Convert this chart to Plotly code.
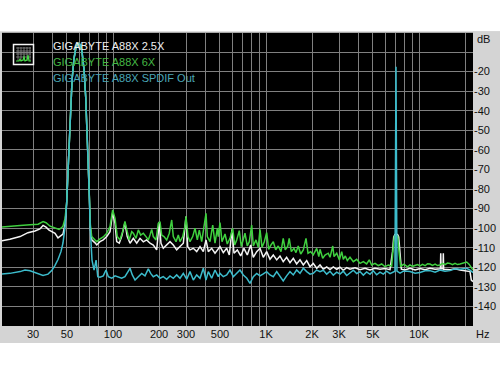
import plotly.graph_objects as go

W, H = 500, 375

# ---------------- data ----------------
series_names = ["GIGABYTE A88X 2.5X", "GIGABYTE A88X 6X", "GIGABYTE A88X SPDIF Out"]

white_hz = [18.8, 21.2, 24.7, 27.8, 30.9, 33.3, 34.9, 36.5, 38.2, 41.8,
            43.7, 45.7, 47.1, 48.6, 49.8, 51.1, 52.4, 54.0, 55.6, 57.3,
            59.3, 61.2, 62.7, 64.7, 66.3, 68.0, 69.7, 71.1, 72.6, 76.3,
            78.3, 82.2, 86.4, 91.0, 95.6, 99.5, 103.1, 105.7, 109.9, 113.9,
            119.7, 123.9, 129.2, 135.8, 142.9, 150.1, 157.8, 166.0, 174.5, 183.4,
            193.0, 200.7, 205.9, 213.1, 224.3, 235.8, 247.8, 260.8, 274.1, 288.1,
            300.0, 307.8, 318.6, 334.9, 352.4, 370.4, 389.3, 405.4, 419.7, 441.6,
            464.2, 500.4, 525.9, 553.4, 575.5, 599.5, 617.8, 649.3, 683.3, 717.8,
            754.6, 794.4, 826.0, 869.3, 913.5, 960.1, 1010, 1062, 1116, 1175,
            1234, 1296, 1364, 1435, 1508, 1586, 1668, 1753, 1845, 1939,
            2036, 2145, 2254, 2369, 2493, 2620, 2754, 2899, 3045, 3201,
            3369, 3540, 3818, 4115, 4436, 4783, 5157, 5560, 5995, 6463,
            6712, 6834, 6970, 7236, 7367, 7513, 7664, 8089, 8733, 9430,
            10150, 10960, 11800, 12740, 13720, 13800, 13870, 13940, 14350, 14420,
            14490, 15940, 17200, 18530, 20490, 21540, 21970, 22540]
white_db = [-106.4, -105.7, -104.3, -102.3, -101.4, -100.4, -98.6, -99.5, -101.0, -102.6,
            -105.0, -104.0, -103.0, -98.0, -87.0, -66.7, -43.0, -24.3, -13.2, -7.6,
            -5.5, -6.2, -9.8, -19.2, -32.8, -53.2, -78.8, -100.0, -106.0, -107.5,
            -108.6, -106.9, -106.0, -104.3, -101.8, -92.1, -97.5, -106.9, -107.7, -104.3,
            -97.2, -104.3, -107.7, -105.2, -107.7, -105.2, -107.0, -106.0, -107.7, -108.6,
            -111.1, -96.7, -107.7, -110.3, -108.6, -106.9, -108.6, -111.1, -109.4, -107.7,
            -94.1, -109.4, -111.1, -110.3, -112.0, -109.4, -112.0, -106.0, -112.0, -110.3,
            -112.8, -109.4, -112.5, -110.3, -113.7, -100.6, -112.8, -111.1, -114.2, -110.3,
            -113.7, -108.6, -114.9, -112.0, -110.3, -114.9, -112.0, -115.9, -113.7, -116.2,
            -114.2, -117.1, -114.9, -117.6, -115.4, -118.3, -116.2, -118.8, -116.6, -119.7,
            -118.0, -120.5, -118.8, -121.0, -119.8, -121.2, -119.8, -121.0, -120.0, -121.5,
            -120.2, -121.0, -120.2, -121.2, -120.5, -121.4, -120.5, -121.0, -120.6, -121.2,
            -112.0, -104.5, -103.2, -103.2, -104.5, -112.0, -121.0, -121.4, -120.5, -121.4,
            -120.6, -121.2, -120.5, -121.0, -120.8, -120.8, -112.8, -120.8, -120.8, -112.8,
            -121.0, -121.2, -120.8, -121.4, -121.7, -122.2, -126.5, -127.3]

green_hz = [18.8, 21.2, 24.7, 28.7, 32.4, 34.9, 36.5, 38.8, 41.8, 44.4,
            45.7, 47.1, 48.6, 49.8, 51.1, 52.4, 54.0, 55.6, 57.3, 59.3,
            61.2, 62.7, 64.7, 66.3, 68.0, 69.7, 71.1, 72.6, 76.3, 78.3,
            82.2, 86.4, 91.0, 95.6, 99.5, 103.1, 106.7, 111.0, 115.6, 119.7,
            123.9, 127.7, 132.5, 135.8, 141.4, 146.4, 151.7, 157.8, 164.3, 170.1,
            174.5, 179.0, 183.4, 191.0, 197.7, 202.8, 208.1, 215.4, 224.3, 233.3,
            241.9, 247.8, 258.1, 267.2, 274.1, 285.5, 295.5, 300.0, 309.2, 318.6,
            331.8, 343.5, 355.7, 366.5, 380.0, 393.4, 405.4, 413.5, 430.5, 448.4,
            464.2, 480.6, 487.8, 500.4, 515.7, 539.5, 558.3, 581.7, 605.6, 624.3,
            643.5, 669.1, 689.6, 729.0, 754.6, 777.8, 806.2, 826.0, 860.1, 890.2,
            913.5, 941.5, 974.9, 1010, 1041, 1078, 1116, 1157, 1202, 1253,
            1296, 1336, 1385, 1418, 1464, 1523, 1570, 1624, 1686, 1753,
            1826, 1882, 1959, 2036, 2145, 2214, 2254, 2348, 2430, 2551,
            2620, 2731, 2784, 2899, 3018, 3124, 3201, 3299, 3400, 3540,
            3721, 3914, 4115, 4326, 4548, 4730, 4903, 5157, 5420, 5701,
            5995, 6302, 6626, 6763, 6897, 7074, 7257, 7401, 7593, 7898,
            8089, 8410, 8733, 9070, 9430, 9780, 10150, 10540, 10960, 11370,
            11800, 12250, 12740, 13210, 13720, 14250, 14790, 15350, 15940, 16550,
            17200, 17850, 18530, 19480, 20490, 21300, 21970, 22540]
green_db = [-99.4, -99.2, -98.6, -98.3, -98.0, -96.6, -97.2, -99.0, -100.0, -100.6,
            -100.0, -99.0, -95.0, -87.0, -66.7, -43.0, -24.3, -13.2, -7.6, -5.5,
            -6.2, -9.8, -19.2, -32.8, -53.2, -78.8, -98.0, -104.3, -106.0, -106.9,
            -105.5, -104.5, -102.6, -99.2, -90.7, -95.0, -104.3, -106.0, -101.7, -96.5,
            -101.8, -106.0, -101.8, -102.6, -105.2, -100.9, -103.5, -102.6, -104.3, -106.0,
            -103.5, -100.6, -104.3, -106.0, -97.5, -96.7, -103.5, -104.3, -106.0, -102.6,
            -95.8, -104.3, -106.9, -103.5, -106.9, -104.3, -99.0, -94.0, -104.3, -106.9,
            -104.3, -100.0, -106.0, -101.0, -106.9, -100.1, -92.4, -104.3, -106.9, -98.4,
            -107.7, -100.1, -104.3, -97.2, -106.9, -103.0, -108.1, -105.2, -100.1, -108.6,
            -106.0, -101.3, -109.4, -102.6, -109.1, -106.9, -98.4, -109.1, -106.0, -109.8,
            -100.6, -109.8, -106.9, -102.3, -110.8, -108.6, -106.9, -111.1, -109.1, -112.0,
            -105.2, -111.1, -109.4, -105.2, -112.0, -110.3, -112.5, -109.1, -113.2, -111.1,
            -105.2, -112.8, -112.0, -113.7, -110.3, -114.5, -110.8, -115.4, -113.7, -112.8,
            -114.9, -109.1, -114.5, -112.8, -116.2, -112.0, -115.9, -114.2, -116.6, -114.9,
            -117.1, -115.9, -118.0, -117.1, -118.3, -116.2, -118.8, -118.0, -119.2, -118.3,
            -119.7, -118.8, -119.3, -111.1, -104.3, -103.5, -104.3, -112.0, -119.7, -118.5,
            -118.8, -119.8, -118.8, -119.5, -119.0, -118.6, -119.3, -118.5, -119.2, -118.2,
            -118.3, -119.0, -118.4, -119.1, -118.8, -118.0, -118.6, -117.8, -118.0, -118.7,
            -118.0, -118.6, -118.3, -117.6, -117.3, -118.5, -120.5, -121.4]

cyan_hz = [18.8, 21.2, 24.7, 26.6, 28.7, 31.9, 34.9, 37.6, 39.9, 41.8,
           43.7, 45.7, 47.1, 48.6, 49.8, 51.1, 52.4, 54.0, 55.6, 57.3,
           59.3, 61.2, 62.7, 64.7, 66.3, 68.0, 69.7, 71.1, 72.9, 75.2,
           77.5, 79.5, 82.2, 86.4, 90.0, 93.2, 98.1, 103.1, 108.3, 113.9,
           119.7, 125.8, 129.2, 133.7, 139.3, 146.4, 154.0, 161.8, 170.1, 176.3,
           183.4, 193.0, 202.8, 213.1, 224.3, 235.8, 247.8, 260.8, 274.1, 288.1,
           303.2, 318.6, 334.9, 352.4, 370.4, 389.3, 405.4, 419.7, 441.6, 464.2,
           487.8, 500.4, 525.9, 553.4, 581.7, 611.4, 643.5, 676.1, 710.6, 749.1,
           785.9, 826.0, 869.3, 913.5, 960.1, 1010, 1062, 1116, 1175, 1234,
           1296, 1364, 1435, 1508, 1586, 1668, 1753, 1845, 1939, 2036,
           2145, 2254, 2369, 2493, 2620, 2754, 2899, 3045, 3201, 3369,
           3540, 3721, 3914, 4115, 4326, 4548, 4783, 5026, 5287, 5560,
           5842, 6146, 6463, 6793, 6964, 7074, 7177, 7513, 7898, 8410,
           8733, 9430, 10150, 10960, 11800, 12740, 13720, 14790, 15940, 17200,
           18530, 20490, 21540, 22540]
cyan_db = [-123.4, -123.1, -122.2, -121.4, -121.8, -123.0, -124.2, -123.5, -121.5, -119.0,
           -116.0, -112.0, -107.6, -99.2, -87.0, -66.7, -43.0, -24.3, -13.2, -7.6,
           -5.5, -6.2, -9.8, -19.2, -32.8, -53.2, -78.8, -101.0, -116.3, -121.4,
           -116.3, -124.8, -125.1, -124.4, -121.4, -124.8, -125.6, -124.4, -125.1, -125.6,
           -124.8, -122.2, -120.5, -123.9, -126.5, -124.8, -123.1, -124.4, -120.8, -123.1,
           -124.8, -123.9, -125.6, -124.8, -126.1, -124.4, -125.6, -123.9, -125.6, -123.1,
           -126.1, -122.2, -126.5, -123.9, -125.6, -120.5, -126.5, -122.2, -125.6, -121.4,
           -124.8, -123.1, -124.8, -123.9, -121.4, -124.8, -123.1, -121.4, -123.9, -125.6,
           -128.2, -124.8, -123.1, -124.4, -123.4, -122.2, -123.9, -124.8, -122.2, -124.8,
           -127.0, -124.4, -122.2, -123.9, -121.4, -123.1, -120.5, -122.2, -123.5, -123.1,
           -121.4, -122.2, -121.5, -123.5, -122.0, -124.0, -122.5, -123.5, -122.0, -124.2,
           -122.8, -121.5, -123.2, -122.2, -124.0, -122.4, -123.6, -121.8, -123.8, -122.5,
           -123.5, -122.0, -123.2, -122.4, -122.0, -17.5, -122.0, -123.0, -122.0, -122.0,
           -122.2, -123.0, -122.7, -121.8, -121.7, -122.5, -121.4, -122.0, -121.7, -120.8,
           -121.0, -120.5, -121.4, -122.7]

# axis ticks
x_grid_hz = [30, 40, 50, 60, 70, 80, 90, 100, 200, 300, 400, 500, 600, 700, 800, 900,
             1000, 2000, 3000, 4000, 5000, 6000, 7000, 8000, 9000, 10000, 20000]
x_tick_labels = {30: "30", 50: "50", 100: "100", 200: "200", 300: "300", 500: "500",
                 1000: "1K", 2000: "2K", 3000: "3K", 5000: "5K", 10000: "10K"}
y_grid_db = [-10, -20, -30, -40, -50, -60, -70, -80, -90, -100, -110, -120, -130, -140]
y_tick_labels = {v: str(v) for v in y_grid_db if v != -10}

assert len(white_hz) == len(white_db)
assert len(green_hz) == len(green_db)
assert len(cyan_hz) == len(cyan_db)

# ---------------- styling ----------------
col_white = "#f4f4f4"
col_green = "#3fd03f"
col_cyan = "#3cbccc"
txt_green = "#45b845"
txt_cyan = "#4aa6b6"
panel = "#d4d4d4"
gridc = "#808080"
FONT = "Liberation Sans, Arial, sans-serif"
FS = 11

# plot area in pixels
PX0, PX1 = 2, 473
PY0, PY1 = 32.5, 326


def px(x):
    return x / W


def py(y):
    return 1 - y / H


fig = go.Figure()
for xs, ys, c in [(white_hz, white_db, col_white),
                  (green_hz, green_db, col_green),
                  (cyan_hz, cyan_db, col_cyan)]:
    fig.add_trace(go.Scatter(x=xs, y=ys, mode="lines",
                             line=dict(color=c, width=1.5),
                             hoverinfo="skip", showlegend=False))

shapes = []
# grey frame strips around the black plot area
for x0, y0, x1, y1 in [(0, 31.3, 500, 32.5), (0, 32, PX0, PY1), (PX1, 31.3, 500, 343),
                       (0, PY1, 500, 343)]:
    shapes.append(dict(type="rect", xref="paper", yref="paper", x0=px(x0), x1=px(x1),
                       y0=py(y1), y1=py(y0), fillcolor=panel, line=dict(width=0),
                       layer="below"))

# legend icon
ix0, iy0, ix1, iy1 = 13.5, 44.5, 33.5, 64.5
for gx in [18, 21, 24, 27, 30]:
    shapes.append(dict(type="line", xref="paper", yref="paper", x0=px(gx), x1=px(gx),
                       y0=py(47), y1=py(61), line=dict(color="#8a8a8a", width=0.8)))
for gy in [48, 51, 54, 57]:
    shapes.append(dict(type="line", xref="paper", yref="paper", x0=px(16), x1=px(31),
                       y0=py(gy), y1=py(gy), line=dict(color="#8a8a8a", width=0.8)))
pts = [(16, 61), (19, 61), (20, 59), (21, 61), (23, 60), (24, 57), (25, 61), (27, 60),
       (28, 55), (29, 61), (31, 61)]
path = "M " + " L ".join(f"{px(a):.5f},{py(b):.5f}" for a, b in pts)
shapes.append(dict(type="path", xref="paper", yref="paper", path=path,
                   line=dict(color="#44dd44", width=1.2)))
shapes.append(dict(type="rect", xref="paper", yref="paper", x0=px(ix0), x1=px(ix1),
                   y0=py(iy1), y1=py(iy0), line=dict(color="#f4f4f4", width=1.5)))

annotations = []
for name, c, yc in [(series_names[0], "#f0f0f0", 45.7),
                    (series_names[1], txt_green, 61.7),
                    (series_names[2], txt_cyan, 77.7)]:
    annotations.append(dict(text=name, xref="paper", yref="paper", x=px(51), y=py(yc),
                            xanchor="left", yanchor="middle", showarrow=False,
                            font=dict(family=FONT, size=FS, color=c)))
annotations.append(dict(text="dB", xref="paper", yref="paper", x=px(475), y=py(39),
                        xanchor="left", yanchor="middle", showarrow=False,
                        font=dict(family=FONT, size=FS, color="#111111")))
annotations.append(dict(text="Hz", xref="paper", yref="paper", x=px(474), y=py(334),
                        xanchor="left", yanchor="middle", showarrow=False,
                        font=dict(family=FONT, size=FS, color="#111111")))

fig.update_layout(
    width=W, height=H,
    margin=dict(l=0, r=0, t=0, b=0),
    paper_bgcolor="white",
    plot_bgcolor="black",
    showlegend=False,
    xaxis=dict(type="log", range=[1.2745, 4.3529], domain=[px(PX0), px(PX1)],
               tickvals=x_grid_hz,
               ticktext=[x_tick_labels.get(v, "") for v in x_grid_hz],
               showgrid=True, gridcolor=gridc, gridwidth=1.3, zeroline=False,
               ticks="", showline=False, tickangle=0,
               tickfont=dict(family=FONT, size=FS, color="#111111")),
    yaxis=dict(range=[-150, 0], domain=[py(PY1), py(PY0)], side="right",
               tickvals=y_grid_db,
               ticktext=[y_tick_labels.get(v, "") for v in y_grid_db],
               showgrid=True, gridcolor=gridc, gridwidth=1.3, zeroline=False,
               ticks="", showline=False,
               tickfont=dict(family=FONT, size=FS, color="#111111")),
    shapes=shapes,
    annotations=annotations,
)

fig.write_html("out.html")
